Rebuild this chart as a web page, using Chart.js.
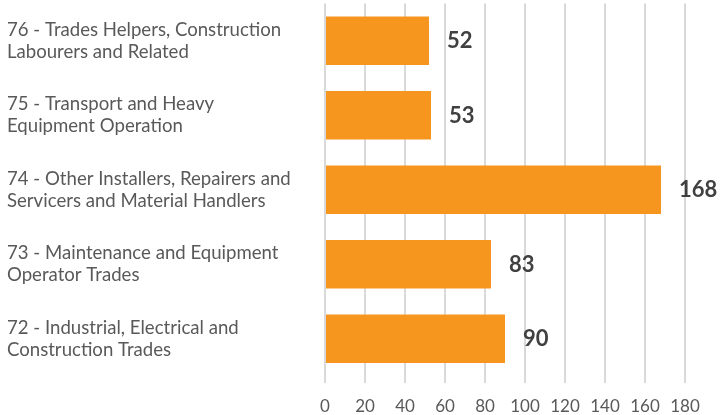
<!DOCTYPE html>
<html>
<head>
<meta charset="utf-8">
<script src="https://cdn.jsdelivr.net/npm/chart.js@4/dist/chart.umd.min.js"></script>
<style>
  html, body { margin: 0; padding: 0; background: #fff; }
  #wrap { width: 721px; height: 415px; position: relative; }
</style>
</head>
<body>
<div id="wrap"><canvas id="chartBase"></canvas></div>
<script>
const categorias = [
  ["76 - Trades Helpers, Construction", "Labourers and Related"],
  ["75 - Transport and Heavy", "Equipment Operation"],
  ["74 - Other Installers, Repairers and", "Servicers and Material Handlers"],
  ["73 - Maintenance and Equipment", "Operator Trades"],
  ["72 - Industrial, Electrical and", "Construction Trades"]
];
const valores = [52, 53, 168, 83, 90];
const ejeX = { min: 0, max: 180, paso: 20 };

// etiquetas al final de cada barra
const etiquetasBarras = {
  id: "etiquetasBarras",
  afterDatasetsDraw(chart) {
    const ctx = chart.ctx;
    const meta = chart.getDatasetMeta(0);
    ctx.save();
    ctx.font = "bold 22px Lato";
    ctx.fillStyle = "#404040";
    ctx.textAlign = "left";
    ctx.textBaseline = "middle";
    meta.data.forEach(function (bar, i) {
      ctx.fillText(String(valores[i]), bar.x + 18, bar.y + 0.5);
    });
    ctx.restore();
  }
};

const ctx = document.getElementById("chartBase").getContext("2d");
new Chart(ctx, {
  type: "bar",
  data: {
    labels: categorias,
    datasets: [{
      data: valores,
      backgroundColor: "#F7961F",
      borderWidth: 0,
      categoryPercentage: 1,
      barPercentage: 0.652
    }]
  },
  options: {
    indexAxis: "y",
    responsive: true,
    maintainAspectRatio: false,
    animation: false,
    layout: { padding: { left: 7, right: 36, top: 3.5, bottom: 0 } },
    plugins: {
      legend: { display: false },
      tooltip: { enabled: false }
    },
    scales: {
      x: {
        min: ejeX.min,
        max: ejeX.max,
        afterFit: function (scale) { scale.height = 39; },
        ticks: {
          stepSize: ejeX.paso,
          color: "#595959",
          font: { family: "Lato", size: 17 },
          padding: 13
        },
        grid: { color: "#d9d9d9", lineWidth: 2, drawTicks: true, tickLength: 7 },
        border: { display: false }
      },
      y: {
        afterFit: function (scale) {
          scale.width = 318;
          scale.paddingTop = 0;
          scale.paddingBottom = 0;
        },
        ticks: {
          crossAlign: "far",
          color: "#595959",
          font: { family: "Lato", size: 18.6, lineHeight: 1.18 },
          padding: 0
        },
        grid: { display: false },
        border: { display: false }
      }
    }
  },
  plugins: [etiquetasBarras]
});
</script>
</body>
</html>
